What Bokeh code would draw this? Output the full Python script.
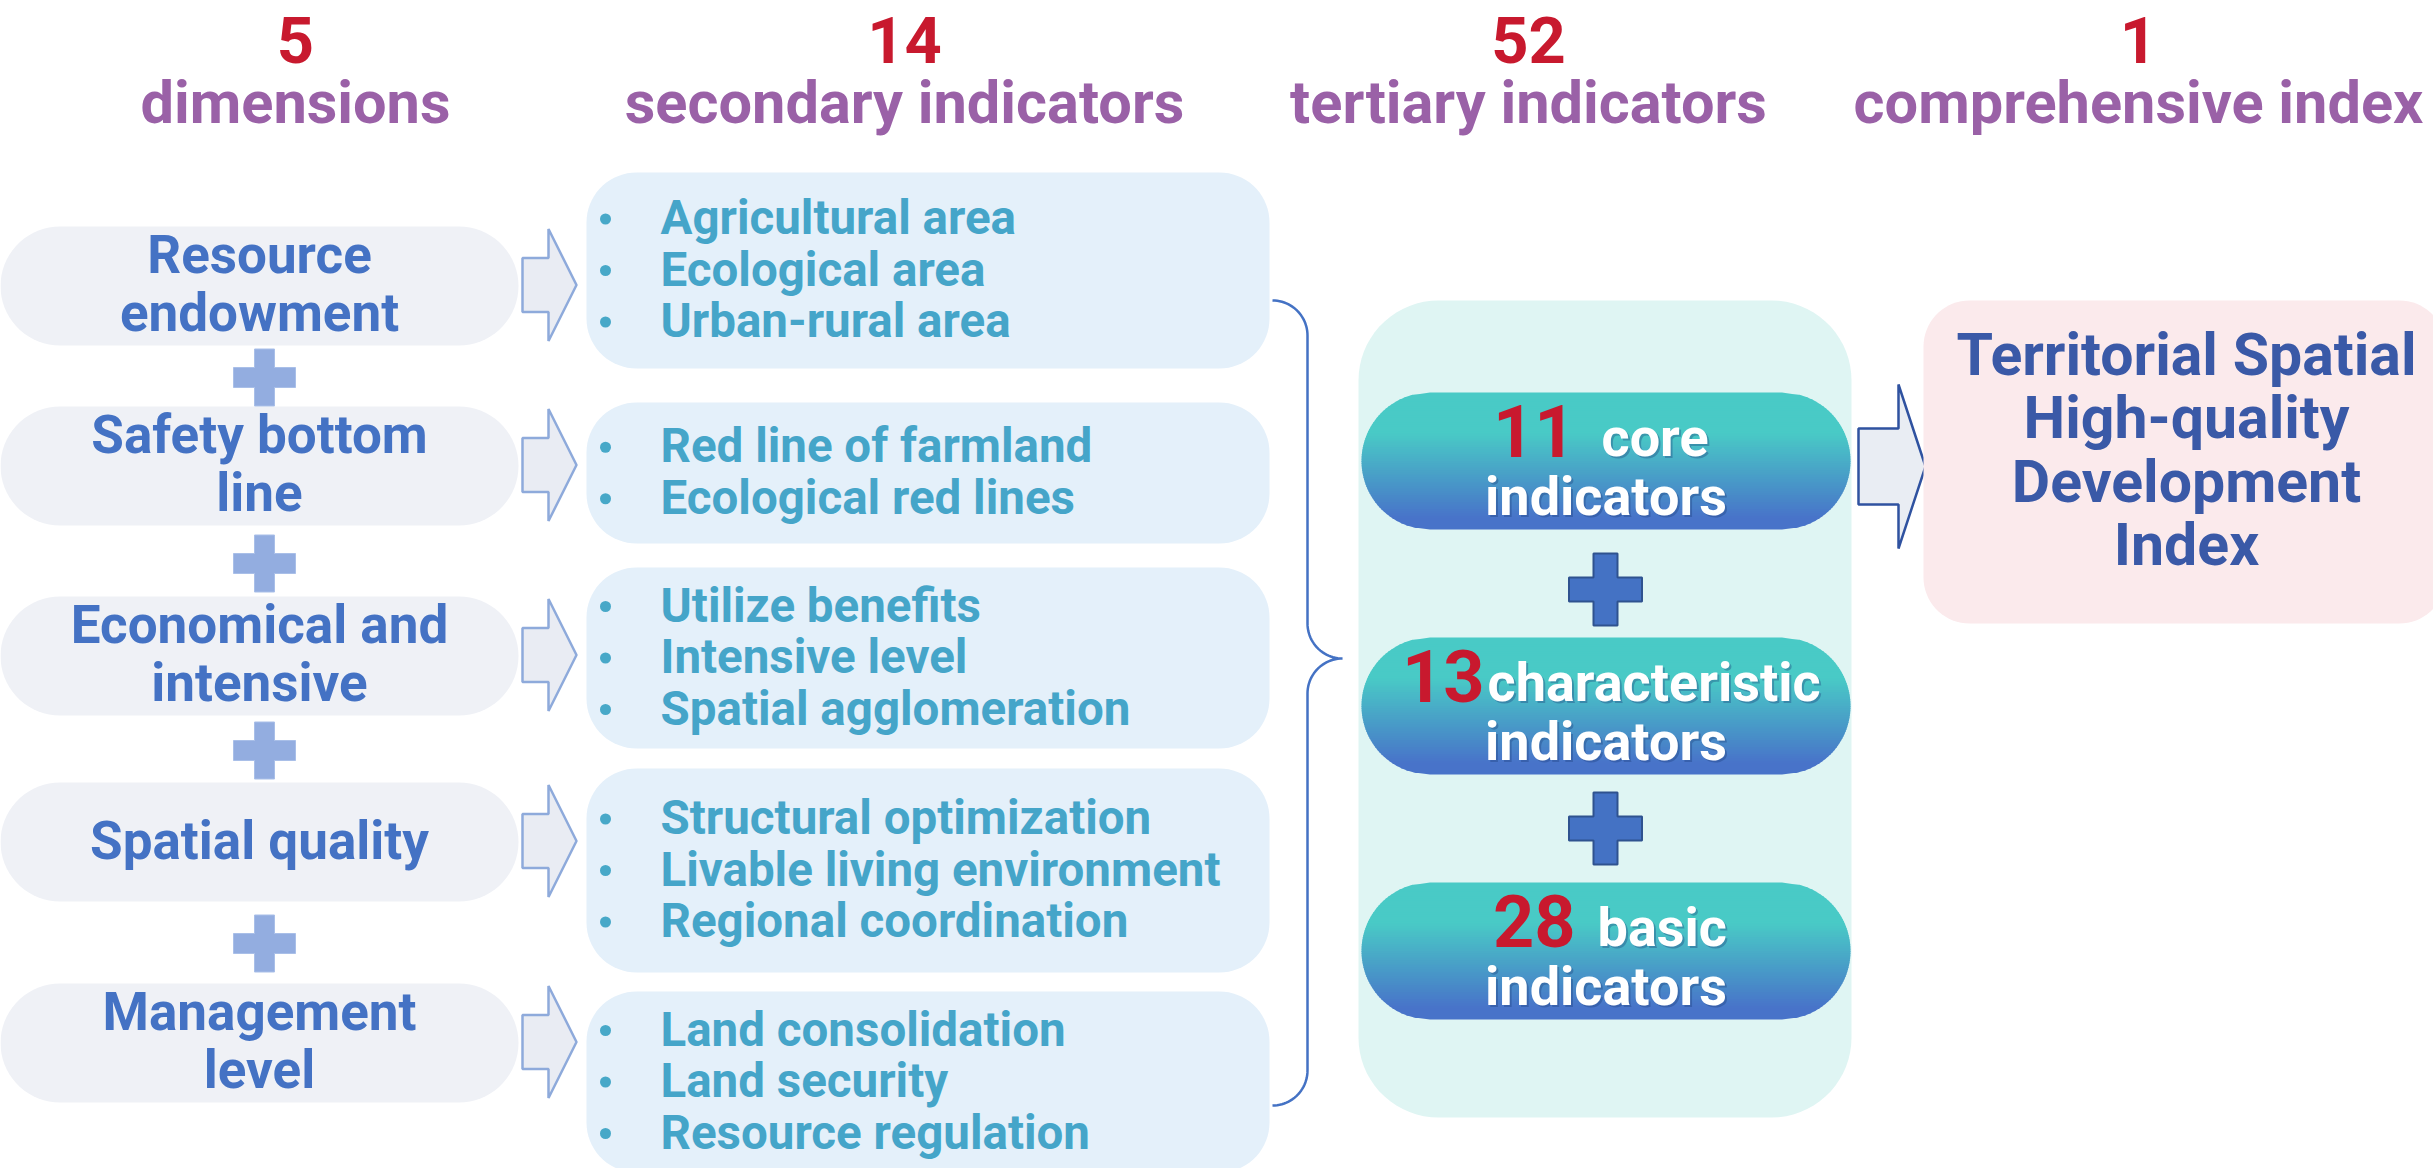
import numpy as np
from bokeh.plotting import figure
from bokeh.models import Range1d
from bokeh.core.properties import value
from bokeh.embed import file_html
from bokeh.resources import INLINE

# ---------------- content ----------------
header_numbers = ["5", "14", "52", "1"]
header_labels = ["dimensions", "secondary indicators", "tertiary indicators", "comprehensive index"]
dimension_lines = [
    ["Resource", "endowment"],
    ["Safety bottom", "line"],
    ["Economical and", "intensive"],
    ["Spatial quality"],
    ["Management", "level"],
]
secondary_items = [
    ["Agricultural area", "Ecological area", "Urban-rural area"],
    ["Red line of farmland", "Ecological red lines"],
    ["Utilize benefits", "Intensive level", "Spatial agglomeration"],
    ["Structural optimization", "Livable living environment", "Regional coordination"],
    ["Land consolidation", "Land security", "Resource regulation"],
]
tertiary_counts = ["11", "13", "28"]
tertiary_kinds = ["core", "characteristic", "basic"]
tertiary_unit = "indicators"
index_lines = ["Territorial Spatial", "High-quality", "Development", "Index"]

# ---------------- layout (page pixels) ----------------
W, H = 2433, 1168
X0, Y0 = 0, 0
FONT = value("Roboto")
BASE_FIX = 0.355  # text drawn ~0.355em below the requested baseline

col_cx = [295, 904, 1528, 2138]
num_base, lab_base = 63, 124

dim_x0, dim_x1, dim_h = 0, 518, 119
dim_top = [226, 406, 596, 782, 983]
plus_l_x, plus_l_y = 264, [377, 563, 750, 943]

sec_x0, sec_x1, sec_r = 586, 1269, 50
sec_box = [(172, 368), (402, 543), (567, 748), (768, 972), (991, 1172)]
line_gap, bullet_x, text_x = 51.5, 605, 660

ter_box = (1358, 300, 1851, 1117, 80)
pill_x0, pill_x1, pill_h = 1361, 1850, 137
pill_top = [392, 637, 882]
plus_t_x, plus_t_y = 1605, [589, 828]
num_right = [1575, 1484, 1575]
word_left = [1601, 1487, 1597]

pink = (1923, 300, 2445, 623, 46)
index_cx, index_base = 2186, [375, 438, 502, 565]

C_NUM = "#c8192e"
C_LAB = "#9a61a7"
C_DIM_FILL, C_DIM_TXT = "#eff1f6", "#4472c4"
C_SEC_FILL, C_SEC_TXT = "#e4f0fa", "#45a5c9"
C_TER_BOX = "#dff5f3"
C_PINK, C_IDX = "#fbeaec", "#3a59a7"


def rrect(x0, y0, x1, y1, r, n=18):
    xs, ys = [], []
    for cx, cy, a0, a1 in [(x1 - r, y0 + r, -90, 0), (x1 - r, y1 - r, 0, 90),
                           (x0 + r, y1 - r, 90, 180), (x0 + r, y0 + r, 180, 270)]:
        for a in np.radians(np.linspace(a0, a1, n)):
            xs.append(float(cx + r * np.cos(a)))
            ys.append(float(cy + r * np.sin(a)))
    return xs, ys


def arrow(xl, xh, xt, cy, bh, hh):
    return ([xl, xh, xh, xt, xh, xh, xl],
            [cy - bh, cy - bh, cy - hh, cy, cy + hh, cy + bh, cy + bh])


def plus(cx, cy, ax, ay, t):
    xs = [cx - t, cx + t, cx + t, cx + ax, cx + ax, cx + t, cx + t, cx - t, cx - t, cx - ax, cx - ax, cx - t]
    ys = [cy - ay, cy - ay, cy - t, cy - t, cy + t, cy + t, cy + ay, cy + ay, cy + t, cy + t, cy - t, cy - t]
    return xs, ys


def arc(cx, cy, r, a0, a1, n=24):
    a = np.radians(np.linspace(a0, a1, n))
    return list(cx + r * np.cos(a)), list(cy + r * np.sin(a))


def mix(c0, c1, t):
    a = [int(c0[i:i + 2], 16) for i in (1, 3, 5)]
    b = [int(c1[i:i + 2], 16) for i in (1, 3, 5)]
    return "#%02x%02x%02x" % tuple(int(round(a[k] + (b[k] - a[k]) * t)) for k in range(3))


p = figure(width=W, height=H, x_range=Range1d(X0, X0 + W), y_range=Range1d(Y0 + H, Y0),
           output_backend="svg", toolbar_location=None, min_border=0,
           x_axis_location=None, y_axis_location=None)
p.grid.visible = False
p.outline_line_color = None
p.background_fill_color = "white"
p.border_fill_color = "white"


def txt(x, y, t, size, color, align="center", alpha=1.0):
    p.text(x=[x], y=[y - BASE_FIX * size], text=[t], text_font=FONT, text_font_style="bold",
           text_font_size=f"{size}px", text_color=color, text_align=align,
           text_baseline="alphabetic", text_alpha=alpha)


# ---------------- headers ----------------
for cx, n, lab in zip(col_cx, header_numbers, header_labels):
    txt(cx, num_base, n, 65, C_NUM)
    txt(cx, lab_base, lab, 59.5, C_LAB)

# ---------------- dimension pills ----------------
xs, ys = [], []
for top in dim_top:
    a, b = rrect(dim_x0, top, dim_x1, top + dim_h, dim_h / 2)
    xs.append(a); ys.append(b)
p.patches(xs, ys, fill_color=C_DIM_FILL, line_color=None)

for top, lines in zip(dim_top, dimension_lines):
    cy = top + dim_h / 2
    cx = (dim_x0 + dim_x1) / 2
    if len(lines) == 1:
        txt(cx, cy + 17.5, lines[0], 53, C_DIM_TXT)
    else:
        txt(cx, cy - 12, lines[0], 53, C_DIM_TXT)
        txt(cx, cy + 46, lines[1], 53, C_DIM_TXT)

xs, ys = [], []
for py in plus_l_y:
    a, b = plus(plus_l_x, py, 31, 28.5, 10)
    xs.append(a); ys.append(b)
p.patches(xs, ys, fill_color="#93ade0", line_color="#a9bfe8", line_width=1)

# small arrows
xs, ys = [], []
for top in dim_top:
    a, b = arrow(522, 548, 576, top + dim_h / 2 - 1, 27, 56)
    xs.append(a); ys.append(b)
p.patches(xs, ys, fill_color="#e9ecf3", line_color="#8eaadb", line_width=2.5)

# ---------------- secondary boxes ----------------
xs, ys = [], []
for (t, b) in sec_box:
    a, c = rrect(sec_x0, t, sec_x1, b, sec_r)
    xs.append(a); ys.append(c)
p.patches(xs, ys, fill_color=C_SEC_FILL, line_color=None)

bx, by = [], []
for (t, b), items in zip(sec_box, secondary_items):
    cy = (t + b) / 2
    n = len(items)
    for i, it in enumerate(items):
        yy = cy + (i - (n - 1) / 2) * line_gap
        bx.append(bullet_x); by.append(yy)
        txt(text_x, yy + 16, it, 47.5, C_SEC_TXT, align="left")
p.scatter(bx, by, size=11, fill_color="#47a8c8", line_color=None)

# ---------------- brace ----------------
bxl, top, bot, tipx, tipy, rr = 1307, 300, 1105, 1342, 658, 35
px, py = [], []
for seg in [arc(bxl - rr, top + rr, rr, -90, 0), arc(bxl + rr, tipy - rr, rr, 180, 90),
            arc(bxl + rr, tipy + rr, rr, 270, 180), arc(bxl - rr, bot - rr, rr, 0, 90)]:
    px += seg[0]; py += seg[1]
p.line(px, py, line_color="#4472c4", line_width=2.5)

# ---------------- tertiary column ----------------
a, b = rrect(*ter_box)
p.patch(a, b, fill_color=C_TER_BOX, line_color=None)

TOP_C, BOT_C = "#49cac6", "#4873c9"
for top in pill_top:
    r = pill_h / 2
    cy = top + r
    nsl = 60
    sx, sy, sc = [], [], []
    for k in range(nsl):
        ya = top + k * pill_h / nsl
        yb = min(top + (k + 1) * pill_h / nsl + 0.8, top + pill_h)
        da = np.sqrt(max(r * r - (ya - cy) ** 2, 0))
        db = np.sqrt(max(r * r - (yb - cy) ** 2, 0))
        sx.append([pill_x0 + r - da, pill_x1 - r + da, pill_x1 - r + db, pill_x0 + r - db])
        sy.append([ya, ya, yb, yb])
        t = ((ya + yb) / 2 - top) / pill_h
        tt = min(max((t - 0.3) / 0.62, 0), 1)
        sc.append(mix(TOP_C, BOT_C, tt))
    p.patches(sx, sy, fill_color=sc, line_color=None)

for i, top in enumerate(pill_top):
    cy = top + pill_h / 2
    cx = (pill_x0 + pill_x1) / 2
    txt(num_right[i], cy - 4, tertiary_counts[i], 72, C_NUM, align="right")
    for dx, col, al in [(2, "#1d3d78", 0.35), (0, "white", 1.0)]:
        txt(word_left[i] + dx, cy - 4 + dx, tertiary_kinds[i], 54, col, align="left", alpha=al)
        txt(cx + dx, cy + 55 + dx, tertiary_unit, 54, col, alpha=al)

xs, ys = [], []
for py_ in plus_t_y:
    a, b = plus(plus_t_x, py_, 36.5, 36, 12)
    xs.append(a); ys.append(b)
p.patches(xs, ys, fill_color="#4472c4", line_color="#2f528f", line_width=2)

# ---------------- big arrow and index box ----------------
a, b = arrow(1858, 1898, 1925, 466, 38, 82)
p.patch(a, b, fill_color="#e9edf3", line_color="#2f52a0", line_width=2.5)

a, b = rrect(*pink)
p.patch(a, b, fill_color=C_PINK, line_color=None)
for yb, line in zip(index_base, index_lines):
    txt(index_cx, yb, line, 59, C_IDX)

open("out.html", "w").write(file_html(p, INLINE))
